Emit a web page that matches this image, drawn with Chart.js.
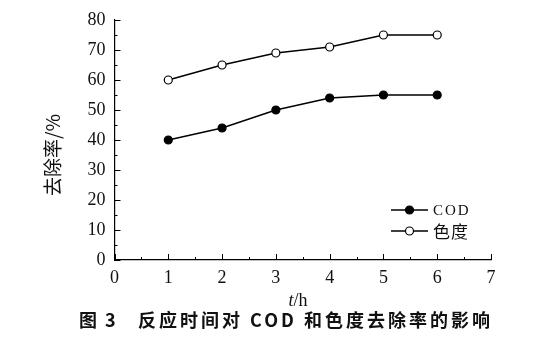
<!DOCTYPE html>
<html>
<head>
<meta charset="utf-8">
<script src="https://cdn.jsdelivr.net/npm/chart.js@4.4.3/dist/chart.umd.min.js"></script>
<style>
  html, body { margin: 0; padding: 0; background: #fff; }
  #wrap { position: relative; width: 550px; height: 342px; }
</style>
</head>
<body>
<div id="wrap"><canvas id="chart" width="550" height="342"></canvas></div>
<script>
// data
const hours = [1, 2, 3, 4, 5, 6];
const codRemoval = [40, 44, 50, 54, 55, 55];
const colorRemoval = [60, 65, 69, 71, 75, 75];
const xTicks = [0, 1, 2, 3, 4, 5, 6, 7];
const yTicks = [0, 10, 20, 30, 40, 50, 60, 70, 80];
const seriesNames = ['COD', '色度'];
const yTitle = '去除率/%';
const caption = ['图 3', '反应时间对 COD 和色度去除率的影响'];

const serif = '"Liberation Serif", "DejaVu Serif", serif';
const cjk = '"Noto Sans CJK SC", sans-serif';

// inward major + minor ticks, titles, legend and caption
const decorPlugin = {
    id: 'decor',
    afterDraw(chart) {
        const ctx = chart.ctx;
        const xs = chart.scales.x;
        const ys = chart.scales.y;
        const area = chart.chartArea;
        ctx.save();
        ctx.strokeStyle = '#000';
        ctx.lineWidth = 1;

        // x ticks (pointing up into the plot)
        for (let v = xs.min; v <= xs.max + 1e-6; v += 0.5) {
            const px = Math.round(xs.getPixelForValue(v)) + 0.5;
            const len = Number.isInteger(v) ? 6 : 3;
            ctx.beginPath();
            ctx.moveTo(px, area.bottom);
            ctx.lineTo(px, area.bottom - len);
            ctx.stroke();
        }
        // y ticks (pointing right into the plot)
        for (let v = ys.min; v <= ys.max + 1e-6; v += 5) {
            const py = Math.round(ys.getPixelForValue(v)) + 0.5;
            const len = v % 10 === 0 ? 6 : 3;
            ctx.beginPath();
            ctx.moveTo(area.left, py);
            ctx.lineTo(area.left + len, py);
            ctx.stroke();
        }

        ctx.fillStyle = '#111';
        ctx.textBaseline = 'middle';

        // x title: italic t + /h
        ctx.font = 'italic 18px ' + serif;
        const tW = ctx.measureText('t').width;
        ctx.font = '18px ' + serif;
        const hW = ctx.measureText('/h').width;
        let tx = 298 - (tW + hW) / 2;
        ctx.textAlign = 'left';
        ctx.font = 'italic 18px ' + serif;
        ctx.fillText('t', tx, 301);
        ctx.font = '18px ' + serif;
        ctx.fillText('/h', tx + tW, 301);

        // y title rotated
        ctx.save();
        ctx.translate(53, 155);
        ctx.rotate(-Math.PI / 2);
        ctx.textAlign = 'center';
        ctx.font = '19px ' + cjk;
        ctx.fillText(yTitle, 0, 0);
        ctx.restore();

        // legend
        const ds = chart.data.datasets;
        const legendY = [210, 231];
        ds.forEach((d, i) => {
            const y = legendY[i];
            ctx.beginPath();
            ctx.lineWidth = 1.5;
            ctx.moveTo(391, y);
            ctx.lineTo(428, y);
            ctx.stroke();
            ctx.beginPath();
            ctx.arc(409.5, y, 4, 0, Math.PI * 2);
            ctx.fillStyle = d.pointBackgroundColor;
            ctx.fill();
            ctx.lineWidth = 1.2;
            ctx.stroke();
            ctx.fillStyle = '#111';
            ctx.textAlign = 'left';
            if (i === 0) {
                ctx.font = '15px ' + serif;
                ctx.letterSpacing = '2px';
            } else {
                ctx.font = '17px ' + cjk;
                ctx.letterSpacing = '1px';
            }
            ctx.fillText(d.label, 433, y + 1);
            ctx.letterSpacing = '0px';
        });

        // caption (bold)
        ctx.textAlign = 'left';
        ctx.font = 'bold 18px ' + cjk;
        ctx.letterSpacing = '2px';
        ctx.fillText(caption[0], 79, 320);
        ctx.letterSpacing = '3px';
        ctx.fillText(caption[1], 138, 320);
        ctx.restore();
    }
};

new Chart(document.getElementById('chart'), {
    type: 'line',
    data: {
        datasets: [
            {
                label: seriesNames[0],
                data: hours.map((h, i) => ({ x: h, y: codRemoval[i] })),
                borderColor: '#000',
                borderWidth: 1.5,
                pointRadius: 4,
                pointBorderWidth: 1.2,
                pointBackgroundColor: '#000',
                pointBorderColor: '#000',
                tension: 0
            },
            {
                label: seriesNames[1],
                data: hours.map((h, i) => ({ x: h, y: colorRemoval[i] })),
                borderColor: '#000',
                borderWidth: 1.5,
                pointRadius: 4,
                pointBorderWidth: 1.2,
                pointBackgroundColor: '#fff',
                pointBorderColor: '#000',
                tension: 0
            }
        ]
    },
    options: {
        responsive: false,
        animation: false,
        layout: { padding: { left: 0, right: 59, top: 20, bottom: 0 } },
        plugins: {
            legend: { display: false },
            tooltip: { enabled: false }
        },
        scales: {
            x: {
                type: 'linear',
                min: 0,
                max: 7,
                afterBuildTicks: (s) => { s.ticks = xTicks.map(v => ({ value: v })); },
                afterFit: (s) => { s.height = 82; },
                grid: { display: false, drawTicks: false },
                border: { display: true, color: '#000', width: 1.2 },
                ticks: {
                    color: '#111',
                    padding: 7,
                    maxRotation: 0,
                    font: { family: serif, size: 18 }
                }
            },
            y: {
                min: 0,
                max: 80,
                afterBuildTicks: (s) => { s.ticks = yTicks.map(v => ({ value: v })); },
                afterFit: (s) => { s.width = 114.5; },
                grid: { display: false, drawTicks: false },
                border: { display: true, color: '#000', width: 1.2 },
                ticks: {
                    color: '#111',
                    padding: 9,
                    font: { family: serif, size: 18 }
                }
            }
        }
    },
    plugins: [decorPlugin]
});
</script>
</body>
</html>
